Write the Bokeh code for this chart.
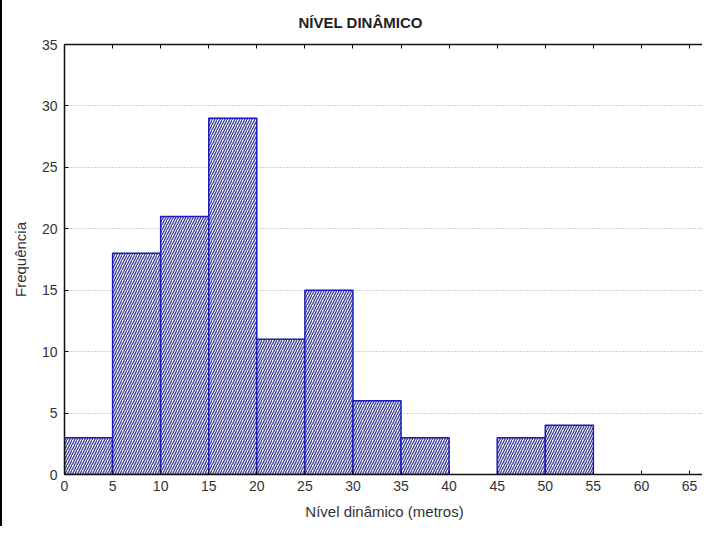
from bokeh.plotting import figure
from bokeh.models import LinearAxis, FixedTicker, Range1d, CustomJSTickFormatter
from bokeh.embed import file_html
from bokeh.resources import INLINE

# Data: histogram bins (metres) and frequencies
bin_left = [0, 5, 10, 15, 20, 25, 30, 35, 40, 45, 50]
bin_right = [5, 10, 15, 20, 25, 30, 35, 40, 45, 50, 55]
frequencies = [3, 18, 21, 29, 11, 15, 6, 3, 0, 3, 4]
x_ticks = [0, 5, 10, 15, 20, 25, 30, 35, 40, 45, 50, 55, 60, 65]
y_ticks = [0, 5, 10, 15, 20, 25, 30, 35]

FONT = "Liberation Sans"

p = figure(width=702, height=533, output_backend="svg", toolbar_location=None,
           x_range=Range1d(0, 66.56), y_range=Range1d(0, 35),
           min_border_left=62, min_border_right=0, min_border_top=49, min_border_bottom=54,
           title="NÍVEL DINÂMICO")
p.styles = {"border-left": "2px solid black", "border-top": "2px solid black",
            "margin-top": "-7px"}
p.outline_line_color = None
p.background_fill_color = "white"

p.title.align = "left"
p.title.offset = 234
p.title.standoff = 28
p.title.text_font = FONT
p.title.text_font_size = "15px"
p.title.text_font_style = "bold"
p.title.text_color = "#222222"

keep = [i for i, f in enumerate(frequencies) if f > 0]
p.quad(left=[bin_left[i] for i in keep], right=[bin_right[i] for i in keep],
       bottom=0, top=[frequencies[i] for i in keep],
       fill_color="white", line_color="#1a1ac0", line_width=1.5,
       hatch_pattern="/", hatch_color="#45459a", hatch_scale=5, hatch_weight=1.4)

for ax in (p.xaxis[0], p.yaxis[0]):
    ax.major_tick_in = 4
    ax.major_tick_out = 0
    ax.minor_tick_in = 0
    ax.minor_tick_out = 0
    ax.axis_line_color = "#111111"
    ax.axis_line_width = 1.5
    ax.major_tick_line_color = "#111111"
    ax.major_label_text_font = FONT
    ax.major_label_text_font_size = "14px"
    ax.major_label_text_color = "#333333"
    ax.axis_label_text_font = FONT
    ax.axis_label_text_font_size = "15px"
    ax.axis_label_text_font_style = "normal"
    ax.axis_label_text_color = "#333333"

p.xaxis[0].ticker = FixedTicker(ticks=x_ticks)
p.yaxis[0].ticker = FixedTicker(ticks=y_ticks)
p.xaxis[0].axis_label = "Nível dinâmico (metros)"
p.yaxis[0].axis_label = "Frequência"
p.xaxis[0].major_label_standoff = 6
p.yaxis[0].major_label_standoff = 7
p.xaxis[0].axis_label_standoff = 9
p.yaxis[0].axis_label_standoff = 10

top_axis = LinearAxis(ticker=FixedTicker(ticks=x_ticks),
                      formatter=CustomJSTickFormatter(code="return ''"))
top_axis.major_label_standoff = 0
top_axis.major_tick_in = 4
top_axis.major_tick_out = 0
top_axis.minor_tick_in = 0
top_axis.minor_tick_out = 0
top_axis.axis_line_color = "#111111"
top_axis.axis_line_width = 1.5
p.add_layout(top_axis, "above")

p.xgrid.grid_line_color = None
p.ygrid.grid_line_color = "#a0a0a0"
p.ygrid.grid_line_dash = "1 2"
p.ygrid.grid_line_width = 1

open("out.html", "w").write(file_html(p, INLINE))
